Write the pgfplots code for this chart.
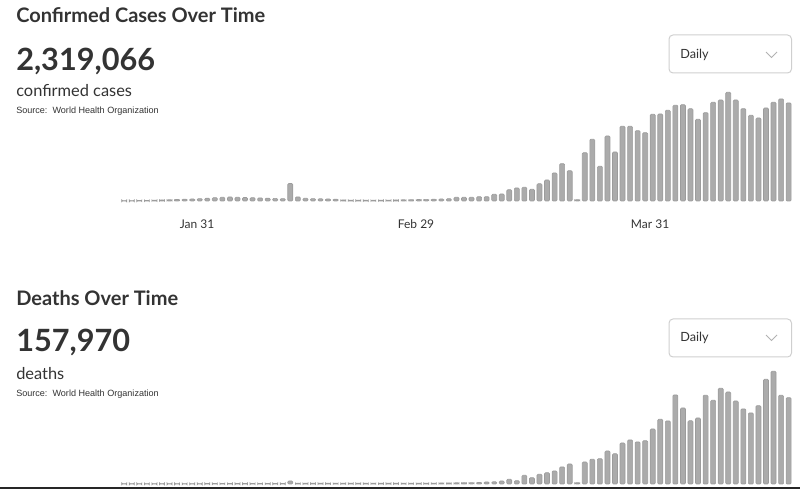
\documentclass[border=0pt]{standalone}
\usepackage{pgfplots}
\pgfplotsset{compat=1.18}
\usepackage{fontspec}
\setmainfont{Lato}
\newfontfamily\srcfont{Liberation Sans}
\definecolor{txt}{HTML}{333333}
\definecolor{barfill}{HTML}{ABABAB}
\definecolor{barline}{HTML}{9C9C9C}
\definecolor{boxline}{HTML}{CFCFCF}

% daily confirmed cases (bar height in px), day 0 = Mar 11
\pgfplotstableread{
d v
-50 0.3
-49 0.3
-48 0.5
-47 0.6
-46 0.8
-45 1.0
-44 1.2
-43 1.5
-42 1.8
-41 2.0
-40 2.4
-39 2.8
-38 3.4
-37 3.7
-36 4.0
-35 3.7
-34 3.5
-33 3.3
-32 3.0
-31 2.8
-30 2.6
-29 2.4
-28 17.5
-27 4.0
-26 2.7
-25 2.4
-24 2.2
-23 2.0
-22 1.8
-21 1.0
-20 0.8
-19 0.8
-18 0.7
-17 0.7
-16 0.8
-15 0.9
-14 1.0
-13 1.2
-12 1.4
-11 1.5
-10 1.6
-9 1.8
-8 2.0
-7 2.3
-6 3.7
-5 3.7
-4 3.7
-3 4.3
-2 4.3
-1 6.7
0 7.0
1 11.3
2 13.0
3 13.7
4 11.7
5 17.3
6 21.0
7 28.0
8 37.3
9 30.3
10 1.3
11 48.3
12 61.7
13 34.7
14 65.0
15 49.0
16 74.7
17 74.7
18 70.3
19 68.3
20 86.7
21 87.0
22 90.7
23 95.7
24 96.3
25 92.3
26 81.7
27 88.3
28 98.7
29 101.0
30 108.7
31 101.0
32 92.3
33 85.7
34 83.0
35 93.0
36 98.7
37 102.0
38 98.0
}\casestab

% daily deaths (bar height in px)
\pgfplotstableread{
d v
-50 0.3
-49 0.3
-48 0.3
-47 0.3
-46 0.3
-45 0.3
-44 0.3
-43 0.3
-42 0.3
-41 0.3
-40 0.3
-39 0.5
-38 0.5
-37 0.5
-36 0.5
-35 0.5
-34 0.5
-33 0.5
-32 0.5
-31 0.5
-30 0.5
-29 0.5
-28 3.0
-27 0.7
-26 0.7
-25 0.7
-24 0.7
-23 0.7
-22 0.7
-21 0.7
-20 0.7
-19 0.7
-18 0.7
-17 0.7
-16 0.7
-15 0.7
-14 0.7
-13 0.7
-12 0.7
-11 0.7
-10 0.8
-9 0.9
-8 1.0
-7 1.0
-6 1.2
-5 1.3
-4 1.4
-3 1.5
-2 2.0
-1 2.2
0 3.0
1 4.7
2 3.3
3 8.7
4 6.3
5 9.7
6 11.3
7 13.0
8 17.0
9 20.0
10 1.3
11 22.0
12 24.7
13 25.3
14 33.0
15 30.3
16 41.0
17 44.0
18 42.0
19 43.3
20 55.0
21 64.7
22 63.0
23 89.0
24 76.0
25 63.3
26 66.0
27 88.7
28 83.7
29 95.7
30 92.0
31 83.0
32 75.0
33 71.0
34 78.3
35 104.7
36 112.7
37 88.7
38 86.3
}\deathstab

\begin{document}
\begin{tikzpicture}[x=0.75pt,y=0.75pt]
\path[use as bounding box] (0,0) rectangle (800,489);

\pgfplotsset{
  panel/.style={
    scale only axis, width=532.3pt,
    xmin=-55, xmax=39, ymin=0,
    axis line style={draw=none}, clip=false,
    ytick=\empty,
    ybar, bar width=3.75pt,
    anchor=origin,
  },
  bars/.style={fill=barfill, draw=barline, line width=0.5pt, bar shift=0pt, rounded corners=0.8pt},
}

% ---- confirmed cases ----
\node[anchor=base west, font=\fontsize{15}{18}\selectfont\bfseries, text=txt, inner sep=0] at (16,466) {Confirmed Cases Over Time};
\node[anchor=base west, font=\fontsize{23}{28}\selectfont\bfseries, text=txt, inner sep=0] at (16,418) {2,319,066};
\node[anchor=base west, font=\fontsize{12.3}{15}\selectfont, text=txt, inner sep=0] at (16,392) {confirmed cases};
\node[anchor=base west, font=\srcfont\fontsize{6.8}{8}\selectfont, text=txt, inner sep=0] at (16,375) {Source:\ \ World Health Organization};

\draw[boxline, line width=0.75pt, rounded corners=3pt] (669,416) rectangle (791.5,454);
\node[anchor=west, font=\fontsize{9.5}{11}\selectfont, text=txt, inner sep=0] at (680,434) {Daily};
\draw[black!30, line width=0.75pt] (766,437) -- (771.5,431.5) -- (777,437);

\begin{axis}[panel, at={(376.3pt,216pt)}, height=82.5pt, ymax=110,
  xtick={-40,-11,20}, xticklabels={Jan 31,Feb 29,Mar 31},
  xtick style={draw=none},
  xticklabel style={anchor=center, yshift=-13pt, xshift=-2pt, text=txt, font=\fontsize{9}{11}\selectfont}]
\addplot[bars] table[x=d, y=v] {\casestab};
\end{axis}

% ---- deaths ----
\node[anchor=base west, font=\fontsize{15}{18}\selectfont\bfseries, text=txt, inner sep=0] at (16,183) {Deaths Over Time};
\node[anchor=base west, font=\fontsize{23}{28}\selectfont\bfseries, text=txt, inner sep=0] at (16,137) {157,970};
\node[anchor=base west, font=\fontsize{12.3}{15}\selectfont, text=txt, inner sep=0] at (16,109) {deaths};
\node[anchor=base west, font=\srcfont\fontsize{6.8}{8}\selectfont, text=txt, inner sep=0] at (16,92) {Source:\ \ World Health Organization};

\draw[boxline, line width=0.75pt, rounded corners=3pt] (669,132) rectangle (791.5,170);
\node[anchor=west, font=\fontsize{9.5}{11}\selectfont, text=txt, inner sep=0] at (680,151) {Daily};
\draw[black!30, line width=0.75pt] (766,154) -- (771.5,148.5) -- (777,154);

\begin{axis}[panel, at={(376.3pt,3.75pt)}, height=86.25pt, ymax=115,
  xtick=\empty]
\addplot[bars] table[x=d, y=v] {\deathstab};
\end{axis}

\fill[black!85] (0,0) rectangle (800,2);
\end{tikzpicture}
\end{document}
